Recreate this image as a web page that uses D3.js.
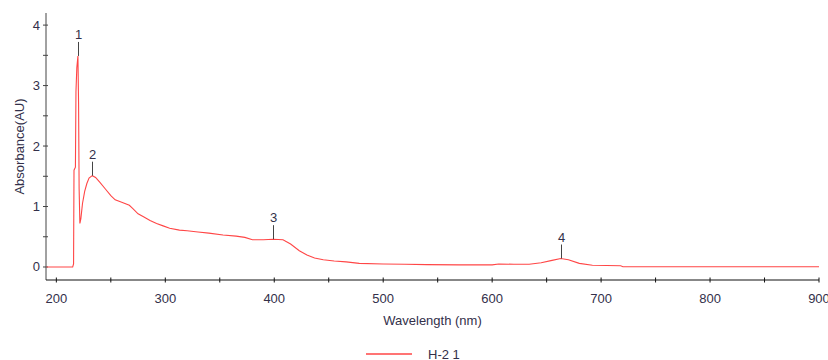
<!DOCTYPE html>
<html>
<head>
<meta charset="utf-8">
<script src="https://cdn.jsdelivr.net/npm/d3@7"></script>
<style>
body { margin: 0; background: #fff; }
svg text { font-family: "Liberation Sans", Arial, sans-serif; font-size: 13px; fill: #33304a; }
</style>
</head>
<body>
<div id="chart"></div>
<script>
// spectrum
var wavelength = [191, 215, 215.8, 216.2, 217.5, 218, 218.8, 219.8, 220.4, 220.9, 221.6, 222.5, 224, 226, 228, 230, 233, 236, 240, 245, 250, 254, 260, 267, 270, 275, 280, 286, 292, 298, 304, 313, 320, 330, 340, 353, 365, 373, 380, 390, 399, 408, 415, 423, 430, 437, 445, 455, 466, 478, 500, 520, 540, 570, 600, 606, 620, 634, 645, 655, 663, 670, 680, 692, 718, 720, 900];
var absorbance = [0, 0, 0.05, 1.6, 1.65, 2.9, 3.3, 3.49, 2.7, 1.3, 0.72, 0.8, 1.05, 1.25, 1.38, 1.47, 1.51, 1.48, 1.4, 1.29, 1.18, 1.11, 1.07, 1.02, 0.97, 0.88, 0.83, 0.77, 0.72, 0.68, 0.64, 0.61, 0.6, 0.58, 0.56, 0.53, 0.51, 0.49, 0.45, 0.45, 0.46, 0.45, 0.38, 0.27, 0.2, 0.15, 0.12, 0.1, 0.085, 0.06, 0.05, 0.045, 0.04, 0.035, 0.035, 0.05, 0.045, 0.045, 0.07, 0.11, 0.14, 0.12, 0.06, 0.03, 0.02, 0.005, 0.005];

// marked peaks
var peakLabel = ["1", "2", "3", "4"];
var peakNm = [220, 233, 399, 663.5];
var peakAbs = [3.49, 1.51, 0.46, 0.14];

var xTicks = [200, 300, 400, 500, 600, 700, 800, 900];
var yTicks = [0, 1, 2, 3, 4];
var seriesName = "H-2 1";

var width = 828, height = 360;
var svg = d3.select("#chart").append("svg")
	.attr("width", width)
	.attr("height", height);

var x = d3.scaleLinear().domain([190.5, 900]).range([46, 819]);
var y = d3.scaleLinear().domain([-0.215, 4.2]).range([280, 13]);

var lineColor = "#ff4646";

//axes lines
svg.append("line")
	.attr("x1", 46).attr("x2", 46)
	.attr("y1", 13).attr("y2", 280)
	.style("stroke", "#444");
svg.append("line")
	.attr("x1", 46).attr("x2", 819)
	.attr("y1", 280).attr("y2", 280)
	.style("stroke", "#111");

//x ticks, minor every 50
var xMinor = d3.range(200, 901, 50);
svg.selectAll(".xt").data(xMinor).enter()
	.append("line")
	.attr("x1", function(d) { return x(d); })
	.attr("x2", function(d) { return x(d); })
	.attr("y1", 277.5).attr("y2", 282.5)
	.style("stroke", "#111");
svg.selectAll(".xl").data(xTicks).enter()
	.append("text")
	.attr("x", function(d) { return x(d); })
	.attr("y", 303)
	.attr("text-anchor", "middle")
	.text(function(d) { return d; });

//y ticks, minor every 0.5
var yMinor = d3.range(0, 4.01, 0.5);
svg.selectAll(".yt").data(yMinor).enter()
	.append("line")
	.attr("x1", 43).attr("x2", 48)
	.attr("y1", function(d) { return y(d); })
	.attr("y2", function(d) { return y(d); })
	.style("stroke", "#444");
svg.selectAll(".yl").data(yTicks).enter()
	.append("text")
	.attr("x", 40)
	.attr("y", function(d) { return y(d) + 4.5; })
	.attr("text-anchor", "end")
	.text(function(d) { return d; });

//axis titles
svg.append("text")
	.attr("x", 432.5).attr("y", 325)
	.attr("text-anchor", "middle")
	.text("Wavelength (nm)");
svg.append("text")
	.attr("transform", "translate(24,146.5) rotate(-90)")
	.attr("text-anchor", "middle")
	.text("Absorbance(AU)");

//spectrum
var pts = wavelength.map(function(w, i) { return [w, absorbance[i]]; });
var line = d3.line()
	.x(function(d) { return x(d[0]); })
	.y(function(d) { return y(d[1]); });
svg.append("path")
	.attr("d", line(pts))
	.style("fill", "none")
	.style("stroke", lineColor)
	.style("stroke-width", 1.1);

//peak markers
peakLabel.forEach(function(lab, i) {
	var px = Math.round(x(peakNm[i])) + 0.5;
	var py = y(peakAbs[i]);
	svg.append("line")
		.attr("x1", px).attr("x2", px)
		.attr("y1", py).attr("y2", py - 14)
		.style("stroke", "#444");
	svg.append("text")
		.attr("x", px).attr("y", py - 17)
		.attr("text-anchor", "middle")
		.text(lab);
});

//legend
svg.append("line")
	.attr("x1", 366).attr("x2", 412)
	.attr("y1", 354).attr("y2", 354)
	.style("stroke", lineColor)
	.style("stroke-width", 1.5);
svg.append("text")
	.attr("x", 428).attr("y", 358.5)
	.text(seriesName);
</script>
</body>
</html>
